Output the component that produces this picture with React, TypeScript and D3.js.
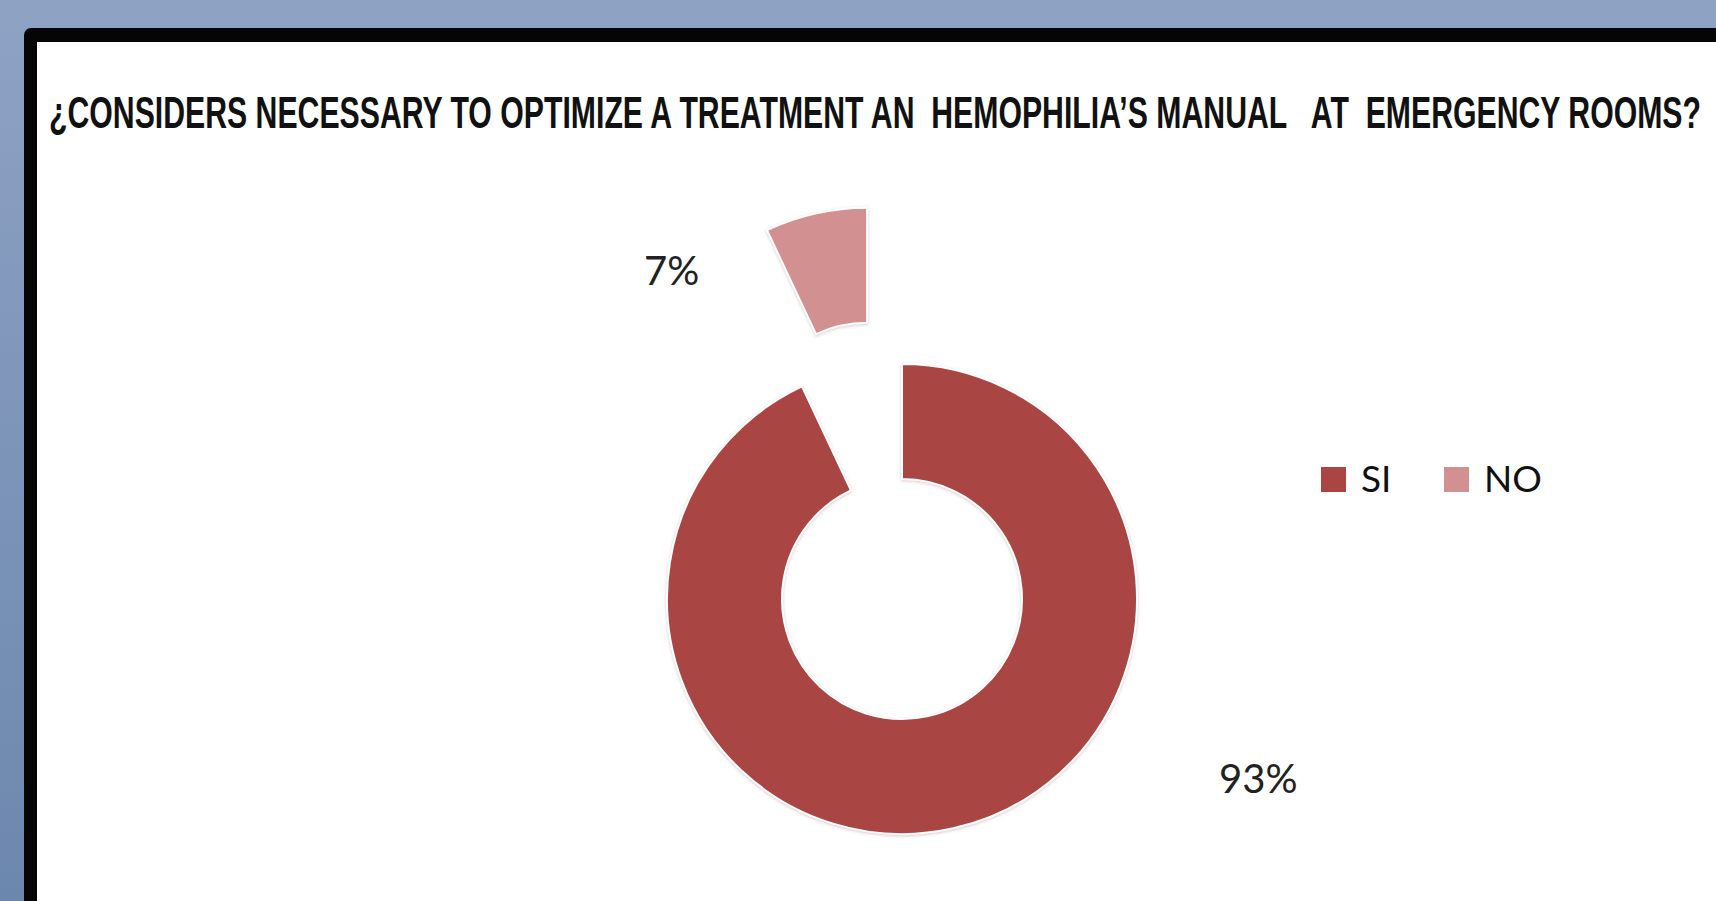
import * as d3 from 'd3';
import React from 'react';

// chart values
const categories = ['SI', 'NO'];
const values = [93, 7];
const sliceColors = ['#a94543', '#d39090'];
const title = '¿CONSIDERS NECESSARY TO OPTIMIZE A TREATMENT AN  HEMOPHILIA’S MANUAL   AT  EMERGENCY ROOMS?';

const W = 1716;
const H = 901;

// donut layout
const cx = 902;
const cy = 599;
const outerR = 235;
const innerR = 120;
const explode = [0, 160];

// label anchors (outside the slices, as the spreadsheet placed them)
const labelPos = [
	{ x: 1219, y: 793 },
	{ x: 644, y: 285 },
];

const App = () => {
	const pie = d3.pie<number>().value(d => d).sort(null);
	const arcs = pie(values);
	const arc = d3.arc<d3.PieArcDatum<number>>().innerRadius(innerR).outerRadius(outerR);
	const total = d3.sum(values);

	return (
		<svg width={W} height={H} style={{ position: 'absolute', left: 0, top: 0, display: 'block' }}>
			<defs>
				<linearGradient id="bg" x1="0" y1="0" x2="0" y2="1">
					<stop offset="0%" stopColor="#8ea2c4" />
					<stop offset="100%" stopColor="#6c87ae" />
				</linearGradient>
				<filter id="soft" x="-10%" y="-10%" width="120%" height="120%">
					<feDropShadow dx="0" dy="1" stdDeviation="1.5" floodColor="#c9a0a0" floodOpacity="0.6" />
				</filter>
			</defs>

			{/* backdrop and frame */}
			<rect x={0} y={0} width={W} height={H} fill="url(#bg)" />
			<rect x={24} y={28} width={W} height={H} rx={7} fill="#050505" />
			<rect x={37} y={42} width={W} height={H} fill="#ffffff" />

			<text
				x={49}
				y={128}
				textLength={1652}
				lengthAdjust="spacingAndGlyphs"
				style={{ whiteSpace: 'pre' }}
				fontFamily="'Liberation Sans Narrow', 'Liberation Sans', Arial, sans-serif"
				fontWeight="bold"
				fontSize={44}
				fill="#111"
			>
				{title}
			</text>

			{/* donut slices */}
			{arcs.map((a, i) => {
				const mid = (a.startAngle + a.endAngle) / 2;
				const dx = Math.sin(mid) * explode[i];
				const dy = -Math.cos(mid) * explode[i];
				return (
					<path
						key={categories[i]}
						d={arc(a) || ''}
						transform={`translate(${cx + dx},${cy + dy})`}
						fill={sliceColors[i]}
						stroke="#ffffff"
						strokeWidth={2}
						filter="url(#soft)"
					/>
				);
			})}

			{/* percentage labels */}
			{arcs.map((a, i) => (
				<text
					key={`lbl-${categories[i]}`}
					x={labelPos[i].x}
					y={labelPos[i].y}
					fontFamily="Lato, 'Open Sans', sans-serif"
					fontSize={40}
					fill="#222"
				>
					{`${d3.format('.0f')((a.data / total) * 100)}%`}
				</text>
			))}

			{/* legend */}
			{categories.map((c, i) => (
				<g key={`leg-${c}`} transform={`translate(${1321 + i * 123},467)`}>
					<rect x={0} y={0} width={25} height={25} fill={sliceColors[i]} />
					<text x={40} y={25} fontFamily="Lato, 'Open Sans', sans-serif" fontSize={37} fill="#111">
						{c}
					</text>
				</g>
			))}
		</svg>
	);
};

export default App;
